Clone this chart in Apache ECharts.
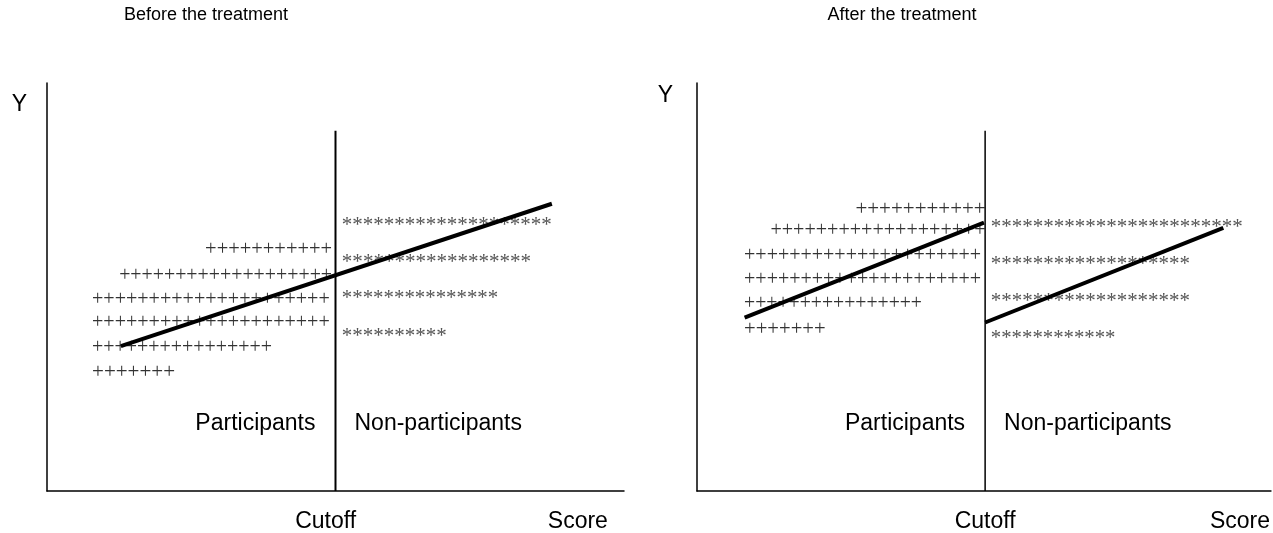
<!DOCTYPE html>
<html>
<head>
<meta charset="utf-8">
<script src="https://cdn.jsdelivr.net/npm/echarts@6/dist/echarts.min.js"></script>
<style>
  html, body { margin: 0; padding: 0; background: #fff; }
  #main { width: 1273px; height: 533px; }
</style>
</head>
<body>
<div id="main"></div>
<script>
// panel titles
const panelTitles = ['Before the treatment', 'After the treatment']
const cutoff = [50, 50.2]
const cutoffTop = [88.3, 88.3]
// x tick labels (position on the score axis, text)
const tickPosBefore = [48.3, 92]
const tickPosAfter = [50.2, 94.6]
const tickText = ['Cutoff', 'Score']
const groupLabels = ['Participants', 'Non-participants']
const groupLabelY = 16.6

// rows of marks: [xStart, xEnd, y, count]
const plusBefore = [
  [27.4, 49.4, 59.2, 11],
  [12.5, 49.4, 52.8, 19],
  [7.8, 49.0, 46.9, 21],
  [7.8, 49.0, 41.3, 21],
  [7.8, 39.0, 35.0, 16],
  [7.8, 22.2, 28.9, 7],
]
const starBefore = [
  [51.1, 87.5, 66.3, 20],
  [51.1, 83.9, 57.2, 18],
  [51.1, 78.2, 48.4, 15],
  [51.1, 69.3, 39.1, 10],
]
const plusAfter = [
  [27.6, 50.3, 69.0, 11],
  [12.8, 50.3, 63.8, 19],
  [8.2, 49.5, 57.7, 21],
  [8.2, 49.5, 51.8, 21],
  [8.2, 39.2, 46.0, 16],
  [8.2, 22.4, 39.6, 7],
]
const starAfter = [
  [51.2, 95.1, 65.8, 24],
  [51.2, 85.9, 56.7, 19],
  [51.2, 85.9, 47.7, 19],
  [51.2, 72.9, 38.6, 12],
]
// fitted lines
const fitBefore = [[12.8, 35.5], [87.5, 70.4]]
const fitAfterLeft = [[8.3, 42.5], [50.0, 65.8]]
const fitAfterRight = [[50.2, 41.3], [91.7, 64.5]]

const markFont = '20px "Liberation Serif"'
const labelFont = 'Liberation Sans'
const measure = document.createElement('canvas').getContext('2d')

function rowSeries(gridIdx, rows, ch, color, dy) {
  return {
    type: 'custom',
    xAxisIndex: gridIdx,
    yAxisIndex: gridIdx,
    data: rows,
    encode: { x: [0, 1], y: 2 },
    renderItem: function (params, api) {
      const p0 = api.coord([api.value(0), api.value(2)])
      const p1 = api.coord([api.value(1), api.value(2)])
      const str = ch.repeat(api.value(3))
      measure.font = markFont
      const w = measure.measureText(str).width
      return {
        type: 'text',
        x: p0[0],
        y: p0[1] + dy,
        scaleX: (p1[0] - p0[0]) / w,
        style: { text: str, font: markFont, fill: color, align: 'left', verticalAlign: 'middle' }
      }
    }
  }
}

function lineSeries(gridIdx, data, width) {
  return {
    type: 'line',
    xAxisIndex: gridIdx,
    yAxisIndex: gridIdx,
    data: data,
    symbol: 'none',
    silent: true,
    lineStyle: { color: '#000', width: width }
  }
}

// "Participants" left of the cutoff line, "Non-participants" right of it
function labelSeries(gridIdx) {
  return {
    type: 'custom',
    xAxisIndex: gridIdx,
    yAxisIndex: gridIdx,
    data: [[cutoff[gridIdx], groupLabelY]],
    renderItem: function (params, api) {
      const p = api.coord([api.value(0), api.value(1)])
      const st = { font: '23px "Liberation Sans"', fill: '#000', verticalAlign: 'middle' }
      return {
        type: 'group',
        children: [
          { type: 'text', x: p[0] - 20, y: p[1], style: Object.assign({ text: groupLabels[0], align: 'right' }, st) },
          { type: 'text', x: p[0] + 19, y: p[1], style: Object.assign({ text: groupLabels[1], align: 'left' }, st) },
        ]
      }
    }
  }
}

function xAxisFor(gridIdx, ticks) {
  return {
    gridIndex: gridIdx,
    type: 'value',
    min: 0,
    max: 100,
    axisLine: { show: true, onZero: false, lineStyle: { color: '#000', width: 1.5 } },
    axisTick: { show: false },
    splitLine: { show: false },
    axisLabel: {
      show: true,
      customValues: ticks,
      margin: 19,
      fontFamily: labelFont,
      fontSize: 23,
      color: '#000',
      formatter: function (v) {
        let best = 0
        ticks.forEach((t, i) => { if (Math.abs(t - v) < Math.abs(ticks[best] - v)) best = i })
        return tickText[best]
      }
    }
  }
}

function yAxisFor(gridIdx, gap, pad) {
  return {
    gridIndex: gridIdx,
    type: 'value',
    min: 0,
    max: 100,
    axisLine: { show: true, onZero: false, lineStyle: { color: '#000', width: 1.5 } },
    axisTick: { show: false },
    axisLabel: { show: false },
    splitLine: { show: false },
    name: 'Y',
    nameLocation: 'end',
    nameGap: gap,
    nameTextStyle: {
      fontFamily: labelFont,
      fontSize: 23,
      color: '#000',
      align: 'right',
      verticalAlign: 'top',
      padding: [0, pad, 0, 0]
    }
  }
}

const chart = echarts.init(document.getElementById('main'))
const option = {
  animation: false,
  backgroundColor: '#fff',
  title: [
    { text: panelTitles[0], left: 201, top: 1, textAlign: 'center',
      textStyle: { fontFamily: labelFont, fontSize: 18, fontWeight: 'normal', color: '#000' } },
    { text: panelTitles[1], left: 897, top: 1, textAlign: 'center',
      textStyle: { fontFamily: labelFont, fontSize: 18, fontWeight: 'normal', color: '#000' } },
  ],
  grid: [
    { left: 47, top: 83, width: 577, height: 409 },
    { left: 697, top: 83, width: 576, height: 409 },
  ],
  xAxis: [xAxisFor(0, tickPosBefore), xAxisFor(1, tickPosAfter)],
  yAxis: [yAxisFor(0, -10, 20), yAxisFor(1, -1, 24)],
  series: [
    rowSeries(0, plusBefore, '+', '#333', 0),
    rowSeries(0, starBefore, '*', '#555', 5),
    rowSeries(1, plusAfter, '+', '#333', 0),
    rowSeries(1, starAfter, '*', '#555', 5),
    lineSeries(0, [[cutoff[0], 0], [cutoff[0], cutoffTop[0]]], 2),
    lineSeries(1, [[cutoff[1], 0], [cutoff[1], cutoffTop[1]]], 1.5),
    lineSeries(0, fitBefore, 4),
    lineSeries(1, fitAfterLeft, 4),
    lineSeries(1, fitAfterRight, 4),
    labelSeries(0),
    labelSeries(1),
  ]
}
chart.setOption(option)
</script>
</body>
</html>
